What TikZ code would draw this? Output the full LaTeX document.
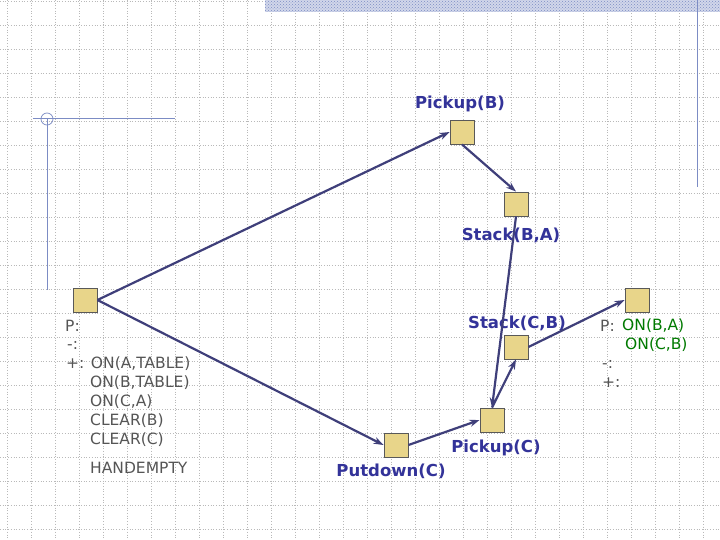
\documentclass[tikz,border=0pt]{standalone}
\usepackage{fontspec}
\setmainfont{DejaVu Sans}
\usetikzlibrary{arrows.meta,patterns}
\definecolor{lbl}{HTML}{333399}
\definecolor{arr}{HTML}{3F3F7A}
\definecolor{grn}{HTML}{007A00}
\definecolor{gtx}{HTML}{555555}
\definecolor{boxf}{HTML}{E8D58A}
\definecolor{deco}{HTML}{7C8CC4}
\begin{document}
\begin{tikzpicture}[x=1pt,y=-1pt,
  act/.style={draw=gray!70!black,fill=boxf,minimum size=24pt,inner sep=0pt,line width=0.9pt},
  lab/.style={text=lbl,font=\bfseries\fontsize{16.5}{18}\selectfont,inner sep=0pt},
  cond/.style={text=gtx,font=\fontsize{15.5}{17}\selectfont,inner sep=0pt,anchor=west},
  gcond/.style={cond,text=grn},
  link/.style={draw=arr,line width=2.2pt,-{Stealth[length=10pt,width=7pt]}}]
\useasboundingbox (0,0) rectangle (720,540);
\fill[white] (0,0) rectangle (720,540);
\foreach \x in {7,31,...,720} \draw[gray!55,dotted,line width=0.7pt] (\x,0) -- (\x,540);
\foreach \y in {1,25,...,540} \draw[gray!55,dotted,line width=0.7pt] (0,\y) -- (720,\y);
\fill[deco!35] (265,0) rectangle (720,12);
\fill[pattern=crosshatch dots,pattern color=deco] (265,0) rectangle (720,12);
\draw[deco,line width=1pt] (697,0) -- (697,187);
\draw[deco,line width=1pt] (33,119) -- (175,119);
\draw[deco,line width=1pt] (47,119) -- (47,290);
\draw[deco,line width=0.7pt] (47,119) circle (6);
\node[act] (s) at (85,300) {};
\node[act] (pb) at (462,132) {};
\node[act] (sba) at (516,204) {};
\node[act] (scb) at (516,347) {};
\node[act] (pc) at (492,420) {};
\node[act] (pd) at (396,445) {};
\node[act] (g) at (637,300) {};
\node[lab] (lpb) at (460,104) {Pickup(B)};
\node[lab] (lsba) at (511,235) {Stack(B,A)};
\node[lab] (lscb) at (517,323) {Stack(C,B)};
\node[lab] (lpc) at (496,448) {Pickup(C)};
\node[lab] (lpd) at (391,471) {Putdown(C)};
\draw[link] (s.east) -- (pb.west);
\draw[link] (pb.south) -- (sba.north);
\draw[link] (sba.south) -- (pc.north);
\draw[link] (s.east) -- (pd.west);
\draw[link] (pd.east) -- (pc.west);
\draw[link] (pc.north) -- (scb.south);
\draw[link] (scb.east) -- (g.west);
\node[cond] (t1) at (65,326) {P:};
\node[cond] (t2) at (67,345) {-:};
\node[cond] (t3) at (66,364) {+: ON(A,TABLE)};
\node[cond] (t4) at (90,383) {ON(B,TABLE)};
\node[cond] (t5) at (90,402) {ON(C,A)};
\node[cond] (t6) at (90,421) {CLEAR(B)};
\node[cond] (t7) at (90,440) {CLEAR(C)};
\node[cond] (t8) at (90,468) {HANDEMPTY};
\node[cond] (r1) at (600,326) {P:};
\node[gcond] (r2) at (622,326) {ON(B,A)};
\node[gcond] (r3) at (625,345) {ON(C,B)};
\node[cond] (r4) at (602,364) {-:};
\node[cond] (r5) at (602,383) {+:};
\end{tikzpicture}
\end{document}
